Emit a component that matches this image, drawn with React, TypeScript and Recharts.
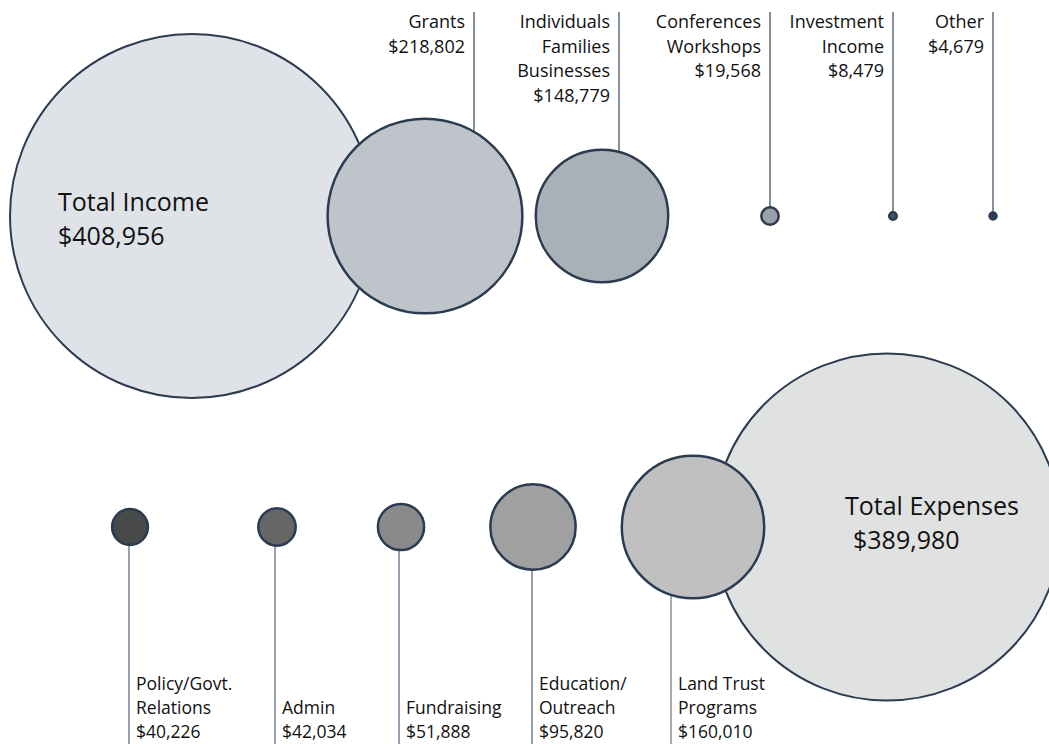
import React from 'react';
import { ScatterChart, Scatter, XAxis, YAxis, ZAxis } from 'recharts';

// income side
const incomeNames = [
  ['Total Income'],
  ['Grants'],
  ['Individuals', 'Families', 'Businesses'],
  ['Conferences', 'Workshops'],
  ['Investment', 'Income'],
  ['Other'],
];
const incomeValues = [408956, 218802, 148779, 19568, 8479, 4679];

// expense side (total first so the others sit on top of it)
const expenseNames = [
  ['Total Expenses'],
  ['Policy/Govt.', 'Relations'],
  ['Admin'],
  ['Fundraising'],
  ['Education/', 'Outreach'],
  ['Land Trust', 'Programs'],
];
const expenseValues = [389980, 40226, 42034, 51888, 95820, 160010];

// layout: horizontal placement of each bubble, row heights, leader offsets
const incomeX = [192, 425, 602, 770, 893, 993];
const expenseX = [887, 130, 277, 401, 533, 693];
const incomeRow = 216;
const expenseRow = 527;
const incomeLead = [0, 49, 17, 0, 0, 0];
const expenseLead = [0, -1, -2, -2, -1, -22];

const incomeFill = ['#dfe2e6', '#bfc4cb', '#a9b0b7', '#9aa1ab', '#44556b', '#2f3f55'];
const expenseFill = ['#e0e1e1', '#484a4a', '#666666', '#8a8a8a', '#a0a0a0', '#c0c0c0'];

const STROKE = '#2b3b50';
const FONT = '"Open Sans", sans-serif';

const fmt = (v: number) => `$${v.toLocaleString('en-US')}`;

const incomeData = incomeValues.map((v, i) => ({
  name: incomeNames[i],
  x: incomeX[i],
  y: incomeRow,
  value: v,
  lead: incomeLead[i],
  fill: incomeFill[i],
  total: i === 0,
}));

const expenseData = expenseValues.map((v, i) => ({
  name: expenseNames[i],
  x: expenseX[i],
  y: expenseRow,
  value: v,
  lead: expenseLead[i],
  fill: expenseFill[i],
  total: i === 0,
}));

const TotalText = ({ x, y, lines, value, valueDx }: any) => (
  <g fontFamily={FONT} fontSize={25} fill="#111">
    <text x={x} y={y}>{lines.join(' ')}</text>
    <text x={x + valueDx} y={y + 34}>{fmt(value)}</text>
  </g>
);

const makeShape = (side: 'top' | 'bottom') => (props: any) => {
  const { cx, cy, size, payload } = props;
  const r = Math.max(size, 3.5);
  if (payload.total) {
    return (
      <g>
        <circle cx={cx} cy={cy} r={r} fill={payload.fill} stroke={STROKE} strokeWidth={2} />
        {side === 'top' ? (
          <TotalText x={cx - 134} y={cy - 5} lines={payload.name} value={payload.value} valueDx={0} />
        ) : (
          <TotalText x={cx - 42} y={cy - 12} lines={payload.name} value={payload.value} valueDx={8} />
        )}
      </g>
    );
  }
  const lx = cx + payload.lead;
  const lines = [...payload.name, fmt(payload.value)];
  if (side === 'top') {
    return (
      <g>
        <line x1={lx} y1={12} x2={lx} y2={cy} stroke="#34465c" strokeWidth={1.2} />
        <circle cx={cx} cy={cy} r={r} fill={payload.fill} stroke={STROKE} strokeWidth={2.5} />
        <text fontFamily={FONT} fontSize={18} fill="#111" textAnchor="end">
          {lines.map((t: string, i: number) => (
            <tspan key={i} x={lx - 9} y={28 + i * 24.7}>{t}</tspan>
          ))}
        </text>
      </g>
    );
  }
  const n = lines.length;
  return (
    <g>
      <line x1={lx} y1={cy} x2={lx} y2={744} stroke={payload.lead < -5 ? '#4a586a' : '#7d8a9c'} strokeWidth={payload.lead < -5 ? 1 : 1.6} />
      <circle cx={cx} cy={cy} r={r} fill={payload.fill} stroke={STROKE} strokeWidth={2.5} />
      <text fontFamily={FONT} fontSize={17.5} fill="#111" textAnchor="start">
        {lines.map((t: string, i: number) => (
          <tspan key={i} x={lx + 7} y={738 - (n - 1 - i) * 24}>{t}</tspan>
        ))}
      </text>
    </g>
  );
};

export default function App() {
  return (
    <div style={{ width: 1049, height: 744, background: '#fff' }}>
      <style>{'body{margin:0}'}</style>
      <ScatterChart width={1049} height={744} margin={{ top: 0, right: 0, bottom: 0, left: 0 }}>
        <XAxis type="number" dataKey="x" domain={[0, 1049]} hide />
        <YAxis type="number" dataKey="y" domain={[0, 744]} reversed hide />
        <ZAxis type="number" dataKey="value" domain={[0, 408956]} range={[0, 182]} />
        <Scatter data={incomeData} shape={makeShape('top')} isAnimationActive={false} />
        <Scatter data={expenseData} shape={makeShape('bottom')} isAnimationActive={false} />
      </ScatterChart>
    </div>
  );
}
